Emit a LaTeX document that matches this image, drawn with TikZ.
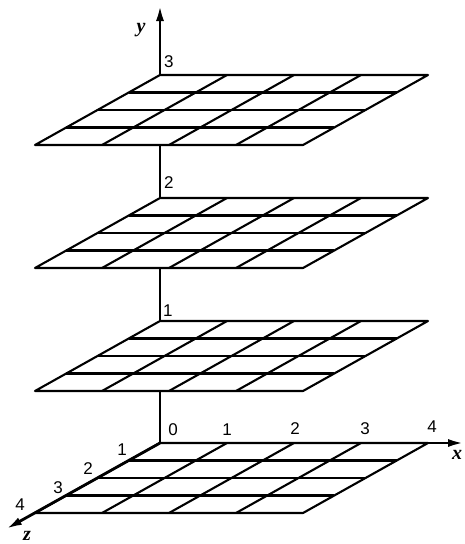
\documentclass[tikz,border=0pt]{standalone}
\usepackage{fontspec}
\setmainfont{Liberation Sans}
\newfontfamily\axfont{Liberation Serif}
\usetikzlibrary{arrows.meta}
\begin{document}
\begin{tikzpicture}[x=1pt,y=-1pt,line join=round,
  axisline/.style={line width=2.8pt},
  gridline/.style={line width=2.1pt},
  num/.style={font=\fontsize{17}{17}\selectfont,inner sep=0pt},
  axlabel/.style={font=\fontsize{20}{20}\selectfont\axfont\bfseries\itshape,inner sep=0pt},
  tip/.style={-{Latex[length=16pt,width=8pt]}}]
\useasboundingbox (0,0) rectangle (465,544);
% origin and axis ends
\coordinate (O) at (160,443);
\coordinate (ytip) at (160,5);
\coordinate (xtip) at (464,443);
\coordinate (ztip) at (6,529);
% vertical axis (partly hidden by planes)
\draw[axisline,tip] (O) -- (ytip);
% planes
\foreach \yo in {443,321,198,75}{
  \filldraw[gridline,fill=white] (160,\yo) -- ++(268,0) -- ++(-125,70) -- ++(-268,0) -- cycle;
  \foreach \i in {1,2,3}{
    \draw[gridline] ({160+67*\i},\yo) -- ++(-125,70);
    \draw[gridline] ({160-31.25*\i},{\yo+17.5*\i}) -- ++(268,0);
  }
}
% x and z axes
\draw[axisline,tip] (O) -- (xtip);
\draw[axisline,tip] (O) -- (ztip);
% labels
\node[axlabel] (ly) at (141,30) {y};
\node[axlabel] (lx) at (457,455) {x};
\node[axlabel] (lz) at (27,536) {z};
\node[num,anchor=west] (y3) at (164,62) {3};
\node[num,anchor=west] (y2) at (164,183) {2};
\node[num,anchor=west] (y1) at (163,311) {1};
\node[num] (x0) at (173,430) {0};
\node[num] (x1) at (227,430) {1};
\node[num] (x2) at (295,429) {2};
\node[num] (x3) at (365,429) {3};
\node[num] (x4) at (432,427) {4};
\node[num] (z1) at (122,450) {1};
\node[num] (z2) at (88,469) {2};
\node[num] (z3) at (58,488) {3};
\node[num] (z4) at (20,505) {4};
\end{tikzpicture}
\end{document}
